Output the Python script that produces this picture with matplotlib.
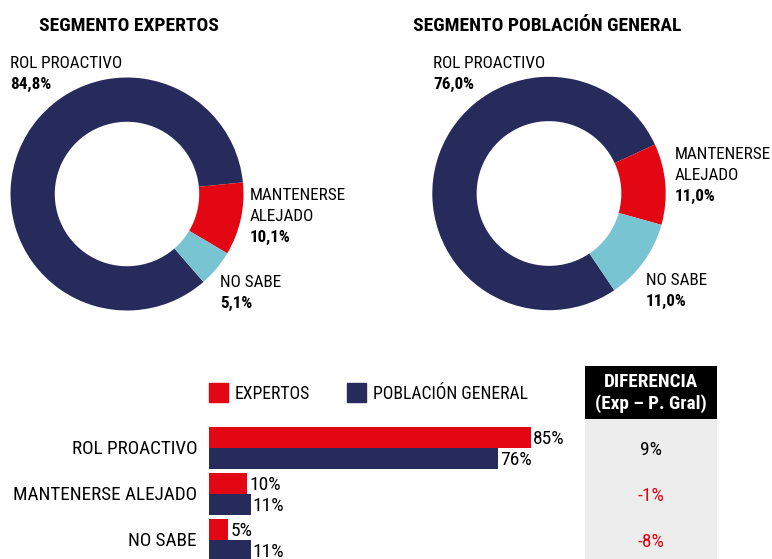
import matplotlib.pyplot as plt
from matplotlib.patches import Rectangle
import numpy as np

plt.rcParams['font.family'] = ['Roboto Condensed', 'Liberation Sans', 'DejaVu Sans']

# Data
categories = ['ROL PROACTIVO', 'MANTENERSE ALEJADO', 'NO SABE']
pie_labels = ['ROL PROACTIVO', 'MANTENERSE\nALEJADO', 'NO SABE']
expertos = [84.8, 10.1, 5.1]
poblacion = [76.0, 11.0, 11.0]
diferencia = [9, -1, -8]
titles = ['SEGMENTO EXPERTOS', 'SEGMENTO POBLACIÓN GENERAL']
series_names = ['EXPERTOS', 'POBLACIÓN GENERAL']

NAVY = '#272B5C'
RED = '#E30613'
LIGHT = '#79C4D3'
GRAY = '#EDEDED'

W, H = 772, 559
fig = plt.figure(figsize=(W / 100, H / 100), dpi=100)


def fx(x):
    return x / W


def fy(y):
    return 1 - y / H


def fmt(v):
    return f'{v:.1f}'.replace('.', ',') + '%'


# Donuts
def donut(cx, cy, r, values, start):
    size = 2 * r + 10
    ax = fig.add_axes([fx(cx - size / 2), fy(cy + size / 2), size / W, size / H])
    ax.pie(values, colors=[NAVY, RED, LIGHT], startangle=start, counterclock=False,
           radius=1, wedgeprops=dict(width=0.38, linewidth=0))
    lim = size / 2 / r
    ax.set_xlim(-lim, lim)
    ax.set_ylim(-lim, lim)
    ax.set_aspect('equal')
    return ax


donut(127, 194, 116.5, expertos, -49)
donut(549, 193.5, 116.7, poblacion, -56)

fig.text(fx(39), fy(31), titles[0], fontsize=14, fontweight='bold', va='baseline')
fig.text(fx(413), fy(31), titles[1], fontsize=14, fontweight='bold', va='baseline')

# pie labels: (x, baseline of first line) per slice
pos1 = [(10, 68), (250, 200), (220, 287)]
pos2 = [(433, 68), (675, 159), (646, 285)]
for pos, vals in [(pos1, expertos), (pos2, poblacion)]:
    for (x, y), lab, v in zip(pos, pie_labels, vals):
        lines = lab.split('\n')
        for k, line in enumerate(lines):
            fig.text(fx(x), fy(y + 21 * k), line, fontsize=12.3, va='baseline')
        fig.text(fx(x), fy(y + 21 * len(lines)), fmt(v), fontsize=12.3,
                 fontweight='bold', va='baseline')

# Legend
fig.add_artist(Rectangle((fx(209), fy(402)), 19 / W, 19 / H, color=RED, transform=fig.transFigure))
fig.text(fx(235), fy(399), series_names[0], fontsize=12.7, va='baseline')
fig.add_artist(Rectangle((fx(347), fy(402)), 19 / W, 19 / H, color=NAVY, transform=fig.transFigure))
fig.text(fx(373), fy(399), series_names[1], fontsize=12.7, va='baseline')

# Bars
axb = fig.add_axes([fx(209), 0, 380 / W, (559 - 420) / H])
y = np.arange(len(categories))
h = 21 / 46
axb.barh(y - h / 2, expertos, height=h, color=RED)
axb.barh(y + h / 2, poblacion, height=h, color=NAVY)
axb.set_xlim(0, 100)
axb.set_ylim((559 - 448) / 46, (420 - 448) / 46)
axb.axis('off')

for i, cat in enumerate(categories):
    axb.text(-12 / 3.8, i + 0.14, cat, ha='right', va='baseline', fontsize=13.8)
    axb.text(expertos[i] + 0.5, i - h / 2 + 0.14, f'{round(expertos[i])}%',
             va='baseline', fontsize=14)
    axb.text(poblacion[i] + 0.5, i + h / 2 + 0.14, f'{round(poblacion[i])}%',
             va='baseline', fontsize=14)

# Difference table
axd = fig.add_axes([fx(585), 0, 132 / W, (559 - 366) / H])
top = (366 - 448) / 46
hdr = (419 - 448) / 46
bottom = (559 - 448) / 46
axd.set_xlim(0, 1)
axd.set_ylim(bottom, top)
axd.add_patch(Rectangle((0, top), 1, hdr - top, color='black', linewidth=0))
axd.add_patch(Rectangle((0, hdr), 1, bottom - hdr, color=GRAY, linewidth=0))
axd.text(0.5, (387 - 448) / 46, 'DIFERENCIA', color='white', fontsize=13.8,
         fontweight='bold', ha='center', va='baseline')
axd.text(0.5, (409 - 448) / 46, '(Exp – P. Gral)', color='white', fontsize=13.8,
         fontweight='bold', ha='center', va='baseline')
for i, d in enumerate(diferencia):
    axd.text(0.5, i + 0.15, f'{d}%', color='black' if d >= 0 else RED,
             fontsize=14, ha='center', va='baseline')
axd.axis('off')

fig.savefig('out.png', dpi=100)
